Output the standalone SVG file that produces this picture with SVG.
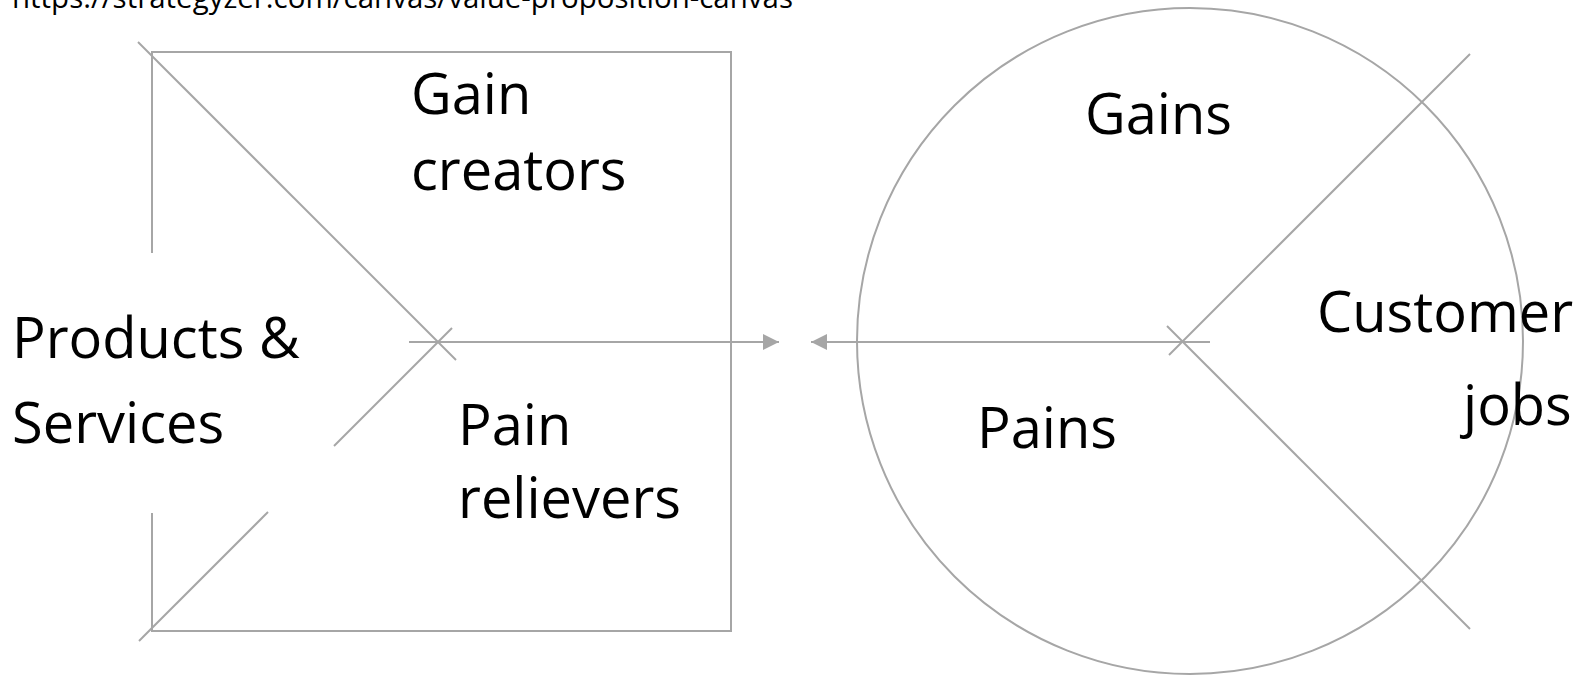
<svg xmlns="http://www.w3.org/2000/svg" width="1585" height="675" viewBox="0 0 1585 675">
  <style>
    .ln { stroke: #A6A6A6; stroke-width: 2; fill: none; }
    .lbl { font-family: "Open Sans", "Liberation Sans", sans-serif; font-size: 56px; fill: #000000; }
    .url { font-family: "Open Sans", "Liberation Sans", sans-serif; font-size: 29px; fill: #000000; }
  </style>
  <defs>
    <marker id="arr" viewBox="0 0 16 16" refX="16" refY="8" markerWidth="16" markerHeight="16" markerUnits="userSpaceOnUse" orient="auto">
      <path d="M0,0 L16,8 L0,16 Z" fill="#A6A6A6"/>
    </marker>
  </defs>
  <rect width="1585" height="675" fill="#FFFFFF"/>

  <g id="source">
    <text class="url" x="12" y="8" textLength="781" lengthAdjust="spacingAndGlyphs">https://strategyzer.com/canvas/value-proposition-canvas</text>
  </g>

  <g id="value-map">
    <path class="ln" d="M152,253 L152,52 L731,52 L731,631 L152,631 L152,513"/>
    <line class="ln" x1="138" y1="42" x2="456" y2="360"/>
    <line class="ln" x1="452" y1="328" x2="334" y2="446"/>
    <line class="ln" x1="268" y1="512" x2="139" y2="641"/>
  </g>

  <g id="customer-profile">
    <circle class="ln" cx="1190" cy="341" r="333"/>
    <line class="ln" x1="1169" y1="355" x2="1470" y2="54"/>
    <line class="ln" x1="1167" y1="326" x2="1470" y2="629"/>
  </g>

  <g id="products-services">
    <text class="lbl" x="12" y="358">Products &amp;</text>
    <text class="lbl" x="12" y="443">Services</text>
  </g>
  <g id="gain-creators">
    <text class="lbl" x="411" y="114">Gain</text>
    <text class="lbl" x="411" y="190">creators</text>
  </g>
  <g id="pain-relievers">
    <text class="lbl" x="458" y="445">Pain</text>
    <text class="lbl" x="458" y="518">relievers</text>
  </g>
  <g id="gains">
    <text class="lbl" x="1085" y="134">Gains</text>
  </g>
  <g id="pains">
    <text class="lbl" x="977" y="448">Pains</text>
  </g>
  <g id="customer-jobs">
    <text class="lbl" x="1317" y="332">Customer</text>
    <text class="lbl" x="1463" y="425">jobs</text>
  </g>

  <g id="connectors">
    <line class="ln" x1="409" y1="342" x2="779" y2="342" marker-end="url(#arr)"/>
    <line class="ln" x1="1210" y1="342" x2="811" y2="342" marker-end="url(#arr)"/>
  </g>
</svg>
